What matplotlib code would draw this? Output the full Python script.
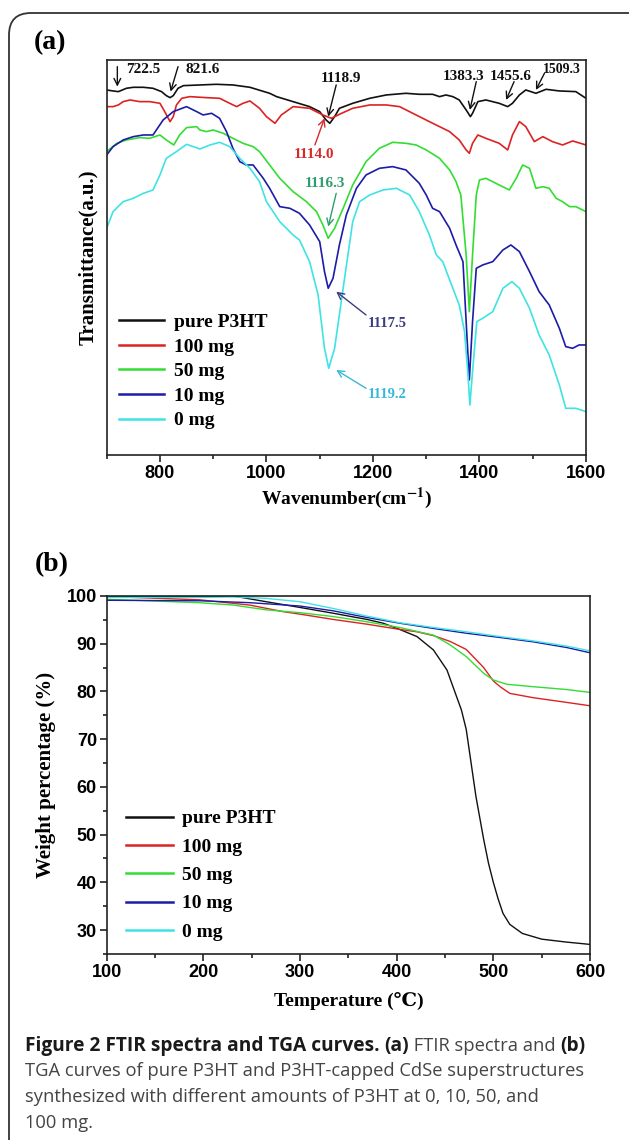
import matplotlib
matplotlib.use('Agg')
import matplotlib.pyplot as plt
from matplotlib.patches import FancyBboxPatch
from matplotlib.ticker import MultipleLocator

plt.rcParams['mathtext.fontset'] = 'stix'
plt.rcParams['mathtext.default'] = 'bf'

serif = ['Liberation Serif', 'DejaVu Serif', 'Noto Sans CJK SC']
sans = 'Liberation Sans'

labels = ['pure P3HT', '100 mg', '50 mg', '10 mg', '0 mg']
colors = ['#111111', '#dd2222', '#33dd33', '#1c1ca8', '#3fe3e3']

# (a) FTIR spectra, transmittance in a.u.
wn_pure = [700, 712, 722, 737, 750, 769, 787, 803, 812, 819, 825, 834, 844, 875, 906, 937, 969, 1006, 1019, 1050,
           1081, 1100, 1112, 1119, 1128, 1137, 1162, 1194, 1225, 1262, 1287, 1312, 1325, 1337, 1350, 1362, 1375,
           1383, 1387, 1397, 1412, 1437, 1453, 1462, 1475, 1487, 1506, 1525, 1550, 1581, 1600]
tr_pure = [109.5, 109.2, 109.0, 110.0, 110.3, 110.3, 110.0, 109.0, 107.8, 107.2, 107.8, 110.0, 110.8, 111.0, 111.2,
           111.0, 110.3, 108.5, 107.5, 106.0, 104.5, 103.0, 100.5, 99.5, 101.5, 104.0, 105.5, 107.0, 108.0, 108.5,
           108.2, 108.2, 107.5, 108.0, 107.5, 106.5, 103.5, 101.5, 102.5, 106.0, 106.5, 105.5, 104.5, 105.5, 108.0,
           109.5, 108.5, 109.7, 109.2, 109.0, 107.0]

wn_100 = [700, 712, 722, 731, 744, 762, 781, 800, 809, 819, 825, 831, 841, 856, 887, 912, 931, 944, 956, 969, 987,
          1000, 1016, 1028, 1050, 1081, 1106, 1122, 1137, 1162, 1194, 1225, 1250, 1281, 1306, 1325, 1344, 1362,
          1375, 1381, 1387, 1397, 1412, 1437, 1453, 1462, 1475, 1487, 1503, 1519, 1537, 1556, 1575, 1600]
tr_100 = [104.5, 104.5, 105.0, 106.0, 106.5, 106.0, 106.0, 105.5, 103.0, 100.0, 101.5, 105.0, 107.0, 107.5, 107.2,
          107.0, 105.5, 104.5, 105.5, 106.2, 104.0, 101.5, 99.5, 102.0, 104.5, 104.0, 102.0, 101.0, 102.2, 104.0,
          105.0, 105.0, 104.5, 102.0, 100.0, 98.5, 97.0, 94.5, 91.5, 90.5, 93.5, 96.0, 95.0, 93.5, 91.5, 96.0,
          100.0, 98.5, 94.0, 95.5, 94.0, 93.0, 94.2, 93.0]

wn_50 = [700, 719, 737, 762, 781, 800, 812, 826, 837, 850, 869, 875, 887, 900, 919, 937, 956, 975, 987, 1006, 1025,
         1050, 1075, 1094, 1106, 1116, 1128, 1144, 1162, 1187, 1212, 1237, 1262, 1281, 1300, 1325, 1344, 1356,
         1365, 1375, 1381, 1387, 1394, 1400, 1412, 1437, 1456, 1469, 1481, 1494, 1506, 1519, 1531, 1544, 1556,
         1569, 1581, 1600]
tr_50 = [91.0, 93.5, 94.5, 95.2, 95.0, 96.0, 94.5, 93.0, 96.0, 98.2, 98.5, 97.5, 97.0, 97.5, 96.5, 95.0, 93.5, 92.5,
         91.0, 87.0, 83.0, 79.0, 76.0, 73.0, 69.0, 65.0, 68.0, 74.0, 81.0, 88.0, 92.0, 93.8, 93.5, 93.0, 91.5, 89.0,
         85.5, 82.0, 78.0, 60.0, 43.0, 60.0, 78.0, 82.5, 83.0, 81.0, 79.5, 83.0, 87.0, 86.0, 80.0, 80.5, 80.0, 77.0,
         76.0, 74.5, 74.5, 73.0]

wn_10 = [700, 712, 731, 750, 769, 787, 806, 825, 850, 869, 881, 897, 912, 925, 937, 950, 962, 975, 994, 1006, 1025,
         1044, 1062, 1081, 1100, 1109, 1116, 1125, 1137, 1150, 1169, 1187, 1212, 1237, 1262, 1287, 1300, 1312,
         1325, 1344, 1356, 1369, 1375, 1381, 1387, 1394, 1406, 1425, 1444, 1459, 1475, 1494, 1512, 1531, 1550,
         1562, 1575, 1587, 1600]
tr_10 = [90.0, 92.5, 94.5, 95.5, 96.0, 96.0, 100.5, 103.0, 104.5, 103.0, 102.0, 102.5, 101.0, 97.0, 92.0, 88.0,
         87.0, 87.0, 83.0, 80.0, 74.5, 74.0, 72.5, 69.0, 64.0, 55.0, 50.0, 53.0, 63.0, 72.0, 80.0, 84.0, 86.0, 86.5,
         85.5, 81.5, 78.0, 74.0, 73.0, 68.0, 63.0, 58.0, 40.0, 22.5, 40.0, 56.0, 57.0, 58.0, 61.5, 63.0, 61.0, 55.0,
         49.0, 45.0, 38.0, 32.5, 32.0, 33.0, 33.0]

wn_0 = [700, 712, 731, 750, 769, 787, 800, 812, 831, 850, 875, 894, 912, 931, 950, 969, 987, 1000, 1025, 1050, 1062,
        1081, 1097, 1109, 1117, 1128, 1144, 1162, 1175, 1194, 1219, 1244, 1269, 1287, 1306, 1319, 1331, 1350, 1362,
        1372, 1378, 1382, 1387, 1395, 1406, 1425, 1444, 1461, 1475, 1494, 1512, 1531, 1550, 1562, 1581, 1600]
tr_0 = [68.0, 73.0, 76.0, 77.0, 78.5, 79.5, 84.0, 89.0, 91.0, 93.2, 91.8, 93.0, 93.8, 92.5, 89.0, 86.0, 82.0, 76.0,
        70.0, 66.0, 64.5, 58.0, 48.0, 32.0, 26.0, 32.0, 50.0, 70.0, 76.0, 78.0, 79.5, 80.0, 78.0, 73.0, 66.0, 60.0,
        58.0, 50.0, 45.0, 37.0, 25.0, 15.0, 25.0, 40.0, 41.0, 43.0, 50.0, 52.0, 50.0, 44.0, 36.0, 30.0, 21.0, 14.0,
        14.0, 13.0]

# peak labels: text, text pos, arrow tail, arrow tip, colour, size, alignment
peaks = [
    ('722.5', (737, 115.5), (720, 116.5), (720, 110.5), '#111111', 11, 'left'),
    ('821.6', (880, 115.5), (834, 116.5), (820, 109.0), '#111111', 11, 'center'),
    ('1118.9', (1140, 113.0), (1131, 111.0), (1116, 101.5), '#111111', 11, 'center'),
    ('1114.0', (1090, 90.0), (1091, 93.0), (1109, 101.0), '#d62a2a', 11, 'center'),
    ('1116.3', (1110, 81.5), (1131, 78.5), (1116, 68.5), '#2e9e6e', 11, 'center'),
    ('1117.5', (1227, 39.5), (1187, 42.0), (1131, 49.0), '#3c3c80', 10.5, 'center'),
    ('1119.2', (1227, 18.0), (1187, 20.0), (1131, 25.5), '#38b8d8', 10.5, 'center'),
    ('1383.3', (1370, 113.5), (1394, 112.0), (1382, 103.5), '#111111', 11, 'center'),
    ('1455.6', (1458, 113.5), (1465, 112.0), (1450, 106.5), '#111111', 11, 'center'),
    ('1509.3', (1519, 115.5), (1522, 114.5), (1506, 109.5), '#111111', 10, 'left'),
]

# (b) TGA curves, weight %
t_pure = [100, 150, 200, 231, 265, 300, 334, 369, 386, 403, 421, 438, 452, 462, 467, 472, 477, 482, 486, 490, 495,
          500, 505, 510, 517, 530, 550, 575, 600]
w_pure = [100, 100, 100, 100, 98.8, 97.6, 96.4, 95.1, 94.3, 93.0, 91.5, 88.7, 84.5, 78.9, 76.1, 72.0, 65.0, 58.0,
          53.5, 49.0, 44.0, 40.0, 36.5, 33.5, 31.2, 29.3, 28.1, 27.5, 27.0]
t_100 = [100, 196, 248, 283, 300, 334, 369, 403, 421, 438, 455, 472, 490, 500, 507, 517, 541, 576, 600]
w_100 = [99.9, 99.2, 98.1, 96.7, 96.2, 95.1, 94.1, 93.0, 92.5, 91.7, 90.5, 88.8, 85.0, 82.2, 81.0, 79.6, 78.7,
         77.7, 77.0]
t_50 = [100, 196, 231, 265, 300, 334, 369, 403, 438, 455, 472, 490, 500, 514, 541, 576, 600]
w_50 = [99.3, 98.6, 98.1, 97.1, 96.5, 95.7, 94.6, 93.4, 91.8, 89.8, 87.3, 83.8, 82.4, 81.5, 81.0, 80.4, 79.8]
t_10 = [100, 196, 248, 300, 334, 369, 403, 438, 472, 507, 541, 576, 600]
w_10 = [99.1, 99.0, 98.6, 97.9, 96.9, 95.5, 94.3, 93.2, 92.2, 91.3, 90.4, 89.2, 88.1]
t_0 = [100, 150, 200, 231, 265, 300, 334, 369, 403, 438, 472, 507, 541, 576, 600]
w_0 = [99.7, 99.7, 99.7, 99.8, 99.5, 98.8, 97.4, 95.8, 94.4, 93.4, 92.5, 91.5, 90.6, 89.5, 88.5]

ftir = [(wn_pure, tr_pure), (wn_100, tr_100), (wn_50, tr_50), (wn_10, tr_10), (wn_0, tr_0)]
tga = [(t_pure, w_pure), (t_100, w_100), (t_50, w_50), (t_10, w_10), (t_0, w_0)]

fig = plt.figure(figsize=(6.29, 11.40), dpi=100)

# outer rounded frame (pixel coords)
frame = FancyBboxPatch((9, -60), 700, 1140 - 13 + 60, boxstyle='round,pad=0,rounding_size=22',
                       transform=None, fill=False, edgecolor='#333333', linewidth=1.3)
fig.patches.append(frame)


def style_axes(ax):
    for sp in ax.spines.values():
        sp.set_linewidth(1.2)
        sp.set_color('#222222')
    ax.tick_params(which='both', direction='out', top=False, right=False, width=1.2, color='#222222')
    ax.tick_params(which='major', length=5, pad=2)
    ax.tick_params(which='minor', length=3)
    for lab in ax.get_xticklabels() + ax.get_yticklabels():
        lab.set_fontfamily(sans)
        lab.set_fontweight('bold')
        lab.set_fontsize(13)


# ---- panel (a)
ax1 = fig.add_axes([0.1696, 0.6009, 0.7620, 0.3465])
for (x, y), c, lab in zip(ftir, colors, labels):
    ax1.plot(x, y, color=c, lw=1.2, label=lab)
ax1.set_xlim(700, 1600)
ax1.set_ylim(0, 118.5)
ax1.set_xticks([800, 1000, 1200, 1400, 1600])
ax1.xaxis.set_minor_locator(MultipleLocator(100))
ax1.set_yticks([])
style_axes(ax1)
ax1.tick_params(axis='y', which='both', left=False)
ax1.set_xlabel(r'Wavenumber(cm$^{-1}$)', family=serif, fontweight='bold', fontsize=14, labelpad=3)
ax1.set_ylabel('Transmittance(a.u.)', family=serif, fontweight='bold', fontsize=15, labelpad=6)

for txt, tpos, tail, tip, c, fs, ha in peaks:
    ax1.annotate('', xy=tip, xytext=tail,
                 arrowprops=dict(arrowstyle='->', color=c, lw=1.0, shrinkA=0, shrinkB=0, mutation_scale=12))
    ax1.text(tpos[0], tpos[1], txt, color=c, family=serif, fontweight='bold', fontsize=fs,
             ha=ha, va='center')

leg1 = ax1.legend(loc='lower left', bbox_to_anchor=(0.005, 0.04), frameon=False, handlelength=2.35,
                  handletextpad=0.5, labelspacing=0.36, borderpad=0,
                  prop={'family': serif, 'weight': 'bold', 'size': 14})
for h in leg1.get_lines():
    h.set_linewidth(1.8)

fig.text(34 / 629, 1 - 43 / 1140, '(a)', family=serif, fontweight='bold', fontsize=20, ha='left', va='center')

# ---- panel (b)
ax2 = fig.add_axes([0.1696, 0.1632, 0.7684, 0.3140])
for (x, y), c, lab in zip(tga, colors, labels):
    ax2.plot(x, y, color=c, lw=1.0, label=lab)
ax2.set_xlim(100, 600)
ax2.set_ylim(25, 100)
ax2.set_xticks(range(100, 601, 100))
ax2.set_yticks(range(30, 101, 10))
ax2.xaxis.set_minor_locator(MultipleLocator(50))
ax2.yaxis.set_minor_locator(MultipleLocator(5))
style_axes(ax2)
ax2.set_xlabel('Temperature (\u2103)', family=serif, fontweight='bold', fontsize=14, labelpad=8)
ax2.set_ylabel('Weight percentage (%)', family=serif, fontweight='bold', fontsize=15, labelpad=8)

leg2 = ax2.legend(loc='lower left', bbox_to_anchor=(0.02, 0.01), frameon=False, handlelength=2.4,
                  handletextpad=0.5, labelspacing=0.55, borderpad=0,
                  prop={'family': serif, 'weight': 'bold', 'size': 14})
for h in leg2.get_lines():
    h.set_linewidth(1.8)

fig.text(35 / 629, 1 - 565 / 1140, '(b)', family=serif, fontweight='bold', fontsize=20, ha='left', va='center')

# ---- caption
cap_font = 'Open Sans'
cap_size = 13.2
dark = '#1a1a1a'
grey = '#444444'
first = [('Figure 2 FTIR spectra and TGA curves. ', 'bold', dark), ('(a)', 'bold', dark),
         (' FTIR spectra and ', 'normal', grey), ('(b)', 'bold', dark)]

# line one mixes weights: put each piece after the previous one on one baseline
renderer = fig.canvas.get_renderer()
x_px = 25
base_y = 1 - 1051 / 1140
for txt, wt, c in first:
    piece = fig.text(x_px / 629, base_y, txt, family=cap_font, fontweight=wt, color=c,
                     fontsize=13.8 if wt == 'bold' else cap_size, ha='left', va='baseline')
    x_px = piece.get_window_extent(renderer).x1

rest = ['TGA curves of pure P3HT and P3HT-capped CdSe superstructures',
        'synthesized with different amounts of P3HT at 0, 10, 50, and',
        '100 mg.']
for i, line in enumerate(rest):
    fig.text(25 / 629, 1 - (1071 + 26 * i) / 1140, line, family=cap_font, color=grey, fontsize=cap_size,
             ha='left', va='center')

fig.savefig('out.png', dpi=100)
